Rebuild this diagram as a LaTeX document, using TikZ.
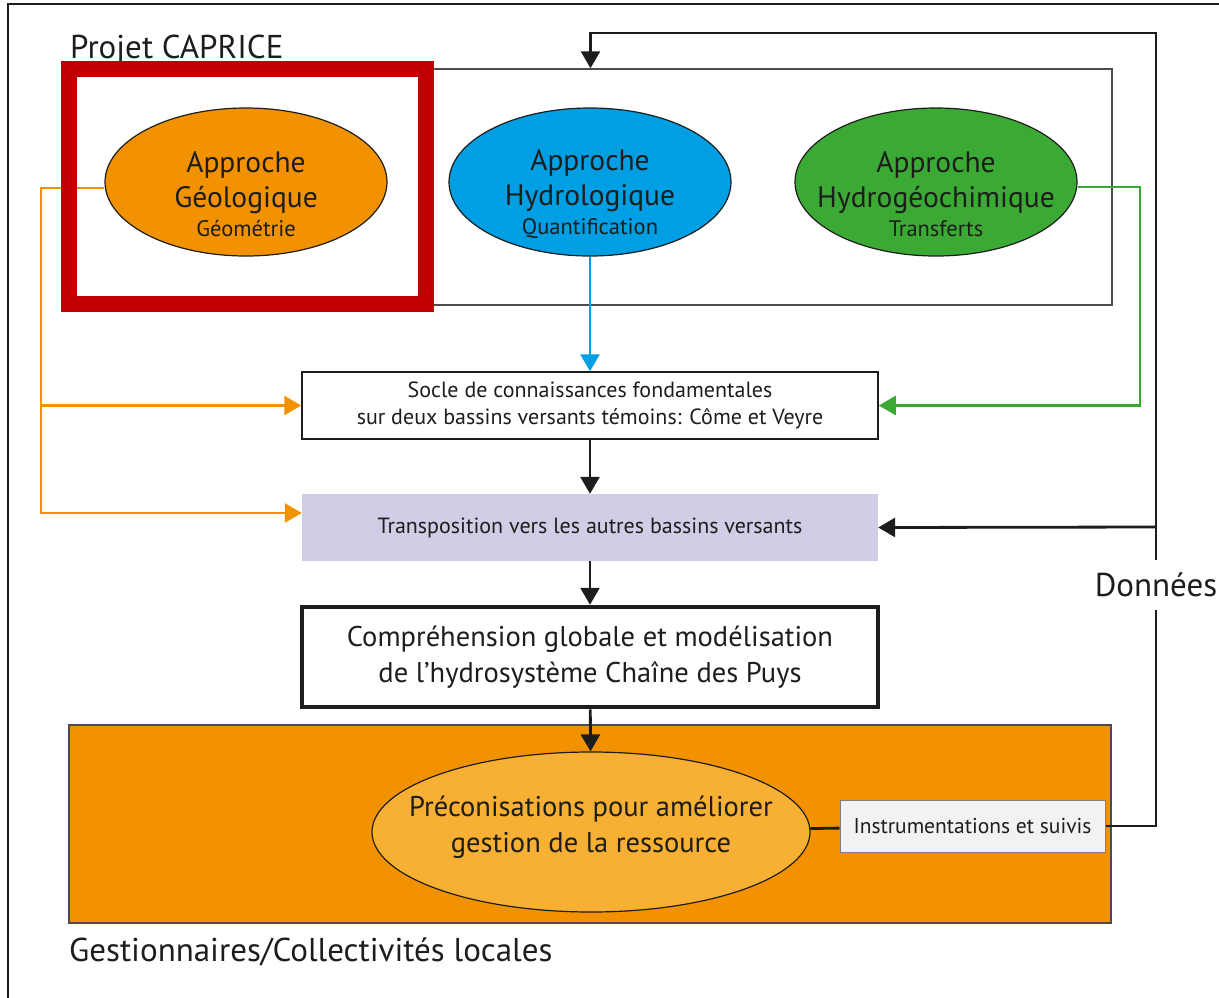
\documentclass[tikz,border=0pt]{standalone}
\usepackage{fontspec}
\setmainfont{PT Sans}
\usepackage{tikz}
\usetikzlibrary{arrows.meta,shapes.geometric,positioning}

\definecolor{textcol}{RGB}{29,29,27}
\definecolor{geocol}{RGB}{243,146,0}
\definecolor{hydrocol}{RGB}{0,159,227}
\definecolor{chimiecol}{RGB}{58,170,53}
\definecolor{precocol}{RGB}{247,176,52}
\definecolor{lavande}{RGB}{209,205,230}
\definecolor{instrucol}{RGB}{242,242,242}
\definecolor{rouge}{RGB}{192,0,0}

\begin{document}
\begin{tikzpicture}[x=1pt,y=-1pt]
    \tikzstyle{approche}=[ellipse,draw=textcol,line width=1.2pt,minimum width=282pt,minimum height=148pt,inner sep=0pt]
    \tikzstyle{apptext}=[align=center,text=textcol,inner sep=0pt,font=\fontsize{29.5}{35}\selectfont]
    \tikzstyle{etape}=[rectangle,minimum width=576pt,minimum height=67pt,inner sep=0pt,align=center,text=textcol,font=\fontsize{22}{27}\selectfont]
    \tikzstyle{fleche}=[line width=2.8pt,-{Triangle[length=17pt,width=19pt]}]
    \tikzstyle{lien}=[line width=2.8pt]
    \tikzstyle{titre}=[text=textcol,inner sep=0pt,font=\fontsize{33}{38}\selectfont]

    \useasboundingbox (0,0) rectangle (1219,997);
    \draw[line width=2pt,draw=textcol] (8,1010) -- (8,4) -- (1230,4);

    % bloc CAPRICE
    \node[draw=black!70,line width=1.5pt,minimum width=1043pt,minimum height=236pt] (caprice) at (590.5,187) {};
    \node[titre,anchor=base west] (projet) at (70,58) {Projet CAPRICE};

    \node[approche,fill=geocol] (geo) at (246,182) {};
    \node[apptext] (geotxt) at (246,194) {Approche\\Géologique\\[-6pt]{\fontsize{22.5}{24}\selectfont Géométrie}};
    \node[approche,fill=hydrocol] (hydro) at (590,182) {};
    \node[apptext] (hydrotxt) at (590,194) {Approche\\Hydrologique\\[-6pt]{\fontsize{22.5}{24}\selectfont Quantification}};
    \node[approche,fill=chimiecol] (chimie) at (936,182) {};
    \node[apptext] (chimietxt) at (936,194) {Approche\\Hydrogéochimique\\[-6pt]{\fontsize{22.5}{24}\selectfont Transferts}};

    % etapes
    \node[etape,draw=textcol,line width=1.5pt] (socle) at (590,405.5) {Socle de connaissances fondamentales\\sur deux bassins versants témoins: Côme et Veyre};
    \node[etape,fill=lavande] (transpo) at (590,527.5) {Transposition vers les autres bassins versants};
    \node[etape,draw=textcol,line width=4.5pt,minimum height=100pt,font=\fontsize{28.5}{36}\selectfont] (compr) at (590,657) {Compréhension globale et modélisation\\de l'hydrosystème Chaîne des Puys};

    % gestionnaires
    \node[draw=black!70,line width=1.2pt,fill=geocol,minimum width=1042pt,minimum height=198pt] (zone) at (590,824) {};
    \node[ellipse,draw=textcol,line width=1.2pt,fill=precocol,minimum width=438pt,minimum height=160pt,inner sep=0pt] (preco) at (591,832) {};
    \node[apptext,font=\fontsize{28.5}{36}\selectfont] (precotxt) at (591,827) {Préconisations pour améliorer\\gestion de la ressource};
    \node[draw=black!50,line width=1pt,fill=instrucol,minimum width=265pt,minimum height=52pt,text=textcol,font=\fontsize{21.5}{24}\selectfont] (instru) at (972.5,826) {Instrumentations et suivis};
    \node[titre,anchor=base west] (gestion) at (69,961) {Gestionnaires/Collectivités locales};
    \node[titre,minimum height=50pt] (donnees) at (1156,585) {Données};

    % liens
    \coordinate (omilieu) at (41,405.5);
    \coordinate (obas) at (41,513);
    \coordinate (gcoin) at (1140,405.5);
    \coordinate (rtop) at (590.5,33);
    \coordinate (dbranche) at (1156,527);

    \draw[fleche,draw=geocol] ([yshift=-6pt]geo.west) -| (obas) -- (obas -| transpo.west);
    \draw[fleche,draw=geocol] (omilieu) -- (socle.west);
    \draw[fleche,draw=hydrocol] (hydro.south) -- (socle.north);
    \draw[fleche,draw=chimiecol] ([yshift=-5pt]chimie.east) -| (gcoin) -- (socle.east);
    \draw[fleche,draw=textcol] (socle) -- (transpo);
    \draw[fleche,draw=textcol] (transpo) -- (compr);
    \draw[fleche,draw=textcol] (compr) -- (preco);
    \draw[lien,draw=textcol] (preco) -- (instru);
    \draw[lien,draw=textcol] (instru.east) -| (donnees.south);
    \draw[fleche,draw=textcol] (donnees.north) |- (rtop) -- (caprice.north);
    \draw[fleche,draw=textcol] (dbranche) -- (transpo.east);

    % cadre rouge
    \draw[line width=16pt,draw=rouge] (69,69) rectangle (426,304);
\end{tikzpicture}
\end{document}
